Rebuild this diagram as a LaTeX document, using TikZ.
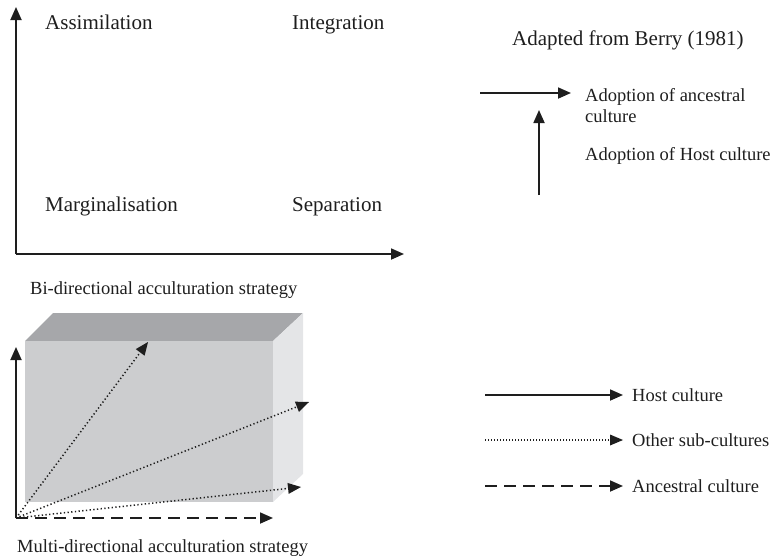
\documentclass[tikz,border=0pt]{standalone}
\usepackage{fontspec}
\setmainfont{Liberation Serif}
\usetikzlibrary{arrows.meta}
\definecolor{topface}{RGB}{166,167,170}
\definecolor{frontface}{RGB}{204,205,207}
\definecolor{sideface}{RGB}{228,229,231}
\definecolor{ink}{RGB}{30,30,30}
\tikzset{
  ax/.style={draw=ink, line width=1.8pt, -{Triangle[length=13pt,width=11pt]}},
  dotarrow/.style={draw=ink, line width=1.5pt, dash pattern=on 1.3pt off 2.4pt, -{Triangle[length=13pt,width=11pt,line width=0pt]}},
  dasharrow/.style={draw=ink, line width=1.8pt, dash pattern=on 12pt off 7pt, -{Triangle[length=13pt,width=11pt]}},
  big/.style={font=\fontsize{21}{25}\selectfont, text=ink, inner sep=0pt, anchor=base west},
  small/.style={font=\fontsize{18.5}{21}\selectfont, text=ink, inner sep=0pt, anchor=west},
}
\begin{document}
\begin{tikzpicture}[x=1pt,y=-1pt]
\useasboundingbox (0,0) rectangle (774,558);
% top quadrant diagram
\coordinate (o1) at (16,254);
\coordinate (y1) at (16,7);
\coordinate (x1) at (404,254);
\draw[ax] (o1) -- (y1);
\draw[ax] (o1) -- (x1);
\node[big] (assim) at (45,29) {Assimilation};
\node[big] (integ) at (292,29) {Integration};
\node[big] (marg) at (45,211) {Marginalisation};
\node[big] (sep) at (292,211) {Separation};
% top right key
\node[big] (berry) at (512,45) {Adapted from Berry (1981)};
\coordinate (ha) at (480,93);
\coordinate (hb) at (571,93);
\draw[ax] (ha) -- (hb);
\node[small, anchor=north west, align=left] (anc) at (585,88) {Adoption of ancestral\\culture};
\coordinate (va) at (539,195);
\coordinate (vb) at (539,110);
\draw[ax] (va) -- (vb);
\node[small] (host) at (585,156) {Adoption of Host culture};
% bi-directional caption
\node[small] (bicap) at (30,290) {Bi-directional acculturation strategy};
% box
\fill[topface] (25,341) -- (53,313) -- (303,313) -- (273,341) -- cycle;
\fill[sideface] (273,341) -- (303,313) -- (303,474) -- (273,502) -- cycle;
\fill[frontface] (25,341) rectangle (273,502);
% multi-directional arrows
\coordinate (o2) at (16,518);
\coordinate (t1) at (148,342);
\coordinate (t2) at (309,402);
\coordinate (t3) at (301,487);
\coordinate (t4) at (273,518);
\coordinate (t5) at (16,347);
\draw[dotarrow] (o2) -- (t1);
\draw[dotarrow] (o2) -- (t2);
\draw[dotarrow] (o2) -- (t3);
\draw[dasharrow] (o2) -- (t4);
\draw[ax] (o2) -- (t5);
\node[small] (multicap) at (17,548) {Multi-directional acculturation strategy};
% legend
\coordinate (l1a) at (485,395);
\coordinate (l1b) at (623,395);
\coordinate (l2a) at (485,440);
\coordinate (l2b) at (623,440);
\coordinate (l3a) at (485,486);
\coordinate (l3b) at (623,486);
\draw[ax] (l1a) -- (l1b);
\draw[dotarrow, line width=1.2pt, dash pattern=on 1pt off 2pt] (l2a) -- (l2b);
\draw[dasharrow, dash pattern=on 12pt off 7pt] (l3a) -- (l3b);
\node[small] (lhost) at (632,395) {Host culture};
\node[small] (lother) at (632,440) {Other sub-cultures};
\node[small] (lanc) at (632,486) {Ancestral culture};
\end{tikzpicture}
\end{document}
